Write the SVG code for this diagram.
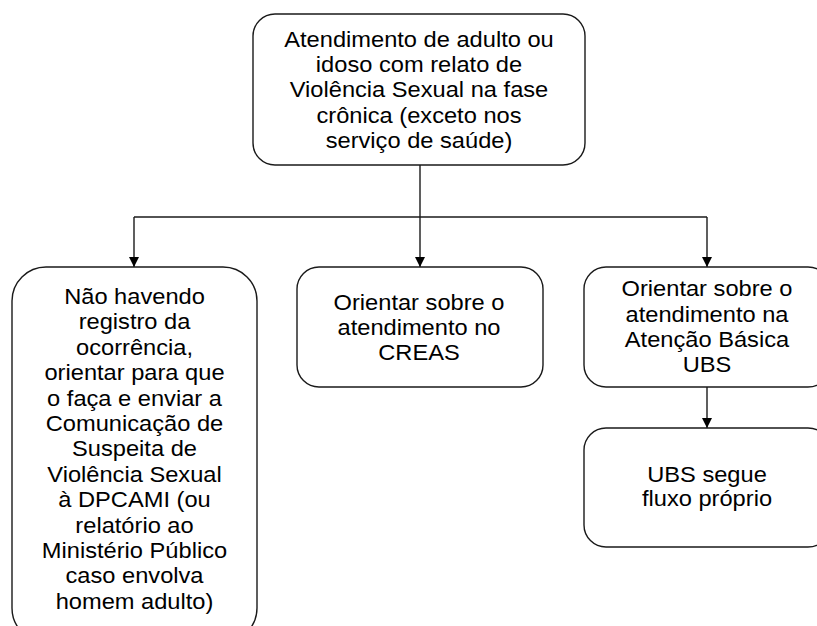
<svg xmlns="http://www.w3.org/2000/svg" width="817" height="626" viewBox="0 0 817 626">
<defs>
<marker id="arr" markerWidth="10" markerHeight="10" refX="10" refY="5" orient="auto" markerUnits="userSpaceOnUse">
<path d="M0,0 L10,5 L0,10 Z" fill="#000"/>
</marker>
<style>
.box{fill:#fff;stroke:#1a1a1a;stroke-width:1.4}
.t{font-family:"Liberation Sans",Arial,sans-serif;font-size:21.5px;fill:#000;text-anchor:middle}
.c{fill:none;stroke:#1a1a1a;stroke-width:1.4}
</style>
</defs>
<rect width="817" height="626" fill="#fff"/>
<g id="connectors">
<line class="c" x1="420" y1="165" x2="420" y2="217"/>
<line class="c" x1="134" y1="217" x2="707" y2="217"/>
<line class="c" x1="134" y1="217" x2="134" y2="267" marker-end="url(#arr)"/>
<line class="c" x1="420" y1="217" x2="420" y2="267" marker-end="url(#arr)"/>
<line class="c" x1="707" y1="217" x2="707" y2="267" marker-end="url(#arr)"/>
<line class="c" x1="707" y1="387" x2="707" y2="428" marker-end="url(#arr)"/>
</g>
<g id="top">
<rect class="box" x="253" y="14" width="332" height="151" rx="22"/>
<g transform="translate(419,0) scale(1.1,1)">
<text class="t" x="0" y="47">Atendimento de adulto ou</text>
<text class="t" x="0" y="72">idoso com relato de</text>
<text class="t" x="0" y="97">Violência Sexual na fase</text>
<text class="t" x="0" y="123">crônica (exceto nos</text>
<text class="t" x="0" y="148">serviço de saúde)</text>
</g>
</g>
<g id="left">
<rect class="box" x="12" y="267" width="245" height="375" rx="34"/>
<g transform="translate(134.5,0) scale(1.1,1)">
<text class="t" x="0" y="304">Não havendo</text>
<text class="t" x="0" y="329.4">registro da</text>
<text class="t" x="0" y="354.8">ocorrência,</text>
<text class="t" x="0" y="380.2">orientar para que</text>
<text class="t" x="0" y="405.6">o faça e enviar a</text>
<text class="t" x="0" y="431">Comunicação de</text>
<text class="t" x="0" y="456.4">Suspeita de</text>
<text class="t" x="0" y="481.8">Violência Sexual</text>
<text class="t" x="0" y="507.2">à DPCAMI (ou</text>
<text class="t" x="0" y="532.6">relatório ao</text>
<text class="t" x="0" y="558">Ministério Público</text>
<text class="t" x="0" y="583.4">caso envolva</text>
<text class="t" x="0" y="608.8">homem adulto)</text>
</g>
</g>
<g id="middle">
<rect class="box" x="297" y="267" width="246" height="120" rx="22"/>
<g transform="translate(419,0) scale(1.1,1)">
<text class="t" x="0" y="310">Orientar sobre o</text>
<text class="t" x="0" y="335">atendimento no</text>
<text class="t" x="0" y="360">CREAS</text>
</g>
</g>
<g id="right">
<rect class="box" x="584" y="267" width="246" height="120" rx="22"/>
<g transform="translate(707,0) scale(1.1,1)">
<text class="t" x="0" y="296">Orientar sobre o</text>
<text class="t" x="0" y="322">atendimento na</text>
<text class="t" x="0" y="347">Atenção Básica</text>
<text class="t" x="0" y="372">UBS</text>
</g>
</g>
<g id="ubs">
<rect class="box" x="584" y="428" width="246" height="119" rx="22"/>
<g transform="translate(707,0) scale(1.1,1)">
<text class="t" x="0" y="482">UBS segue</text>
<text class="t" x="0" y="506">fluxo próprio</text>
</g>
</g>
</svg>
